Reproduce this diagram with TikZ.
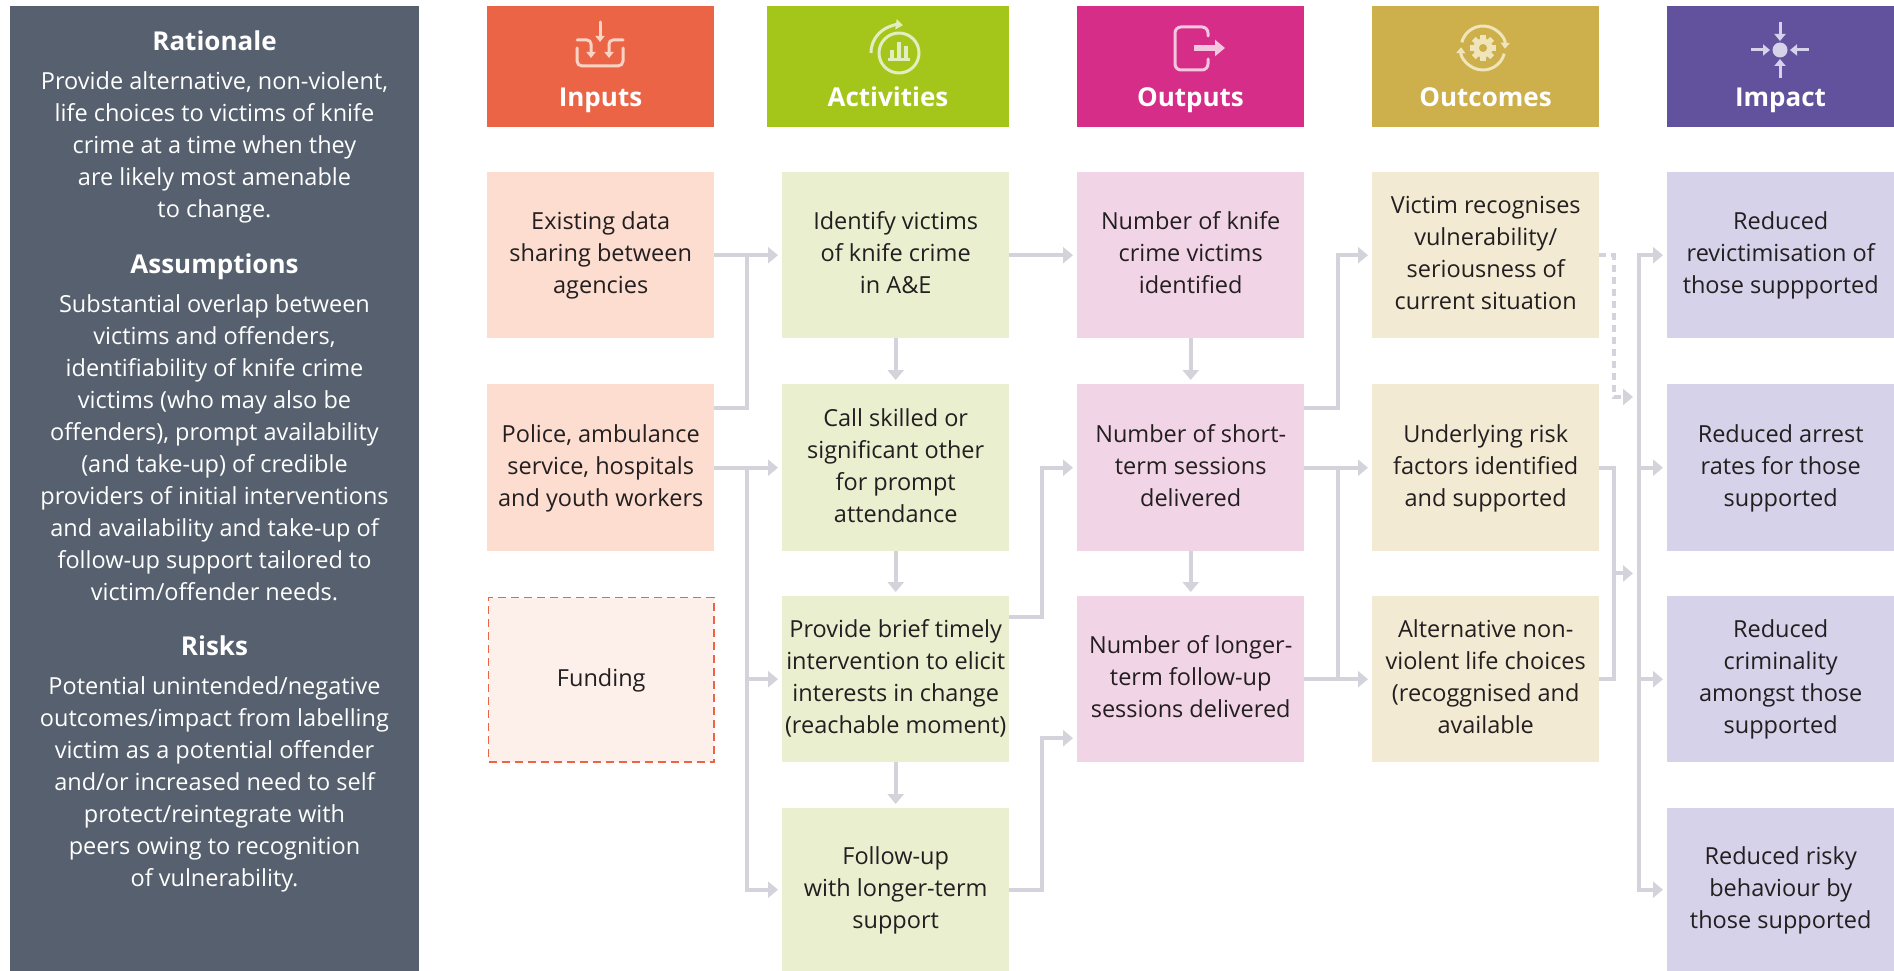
\documentclass[tikz,border=0pt]{standalone}
\usepackage{fontspec}
\setmainfont{Open Sans}
\usetikzlibrary{arrows.meta}
\definecolor{panelc}{HTML}{56606E}
\definecolor{txtc}{HTML}{231F20}
\definecolor{lgray}{HTML}{D4D3DC}
\definecolor{cin}{HTML}{EC6446}
\definecolor{cac}{HTML}{A4C61A}
\definecolor{cou}{HTML}{D62E88}
\definecolor{coc}{HTML}{CDAF4B}
\definecolor{cim}{HTML}{62519D}
\definecolor{bin}{HTML}{FCDDD0}
\definecolor{bfu}{HTML}{FDEFEA}
\definecolor{bac}{HTML}{E9EFCF}
\definecolor{bou}{HTML}{F2D4E7}
\definecolor{boc}{HTML}{F3EAD4}
\definecolor{bim}{HTML}{D6D2EA}
\definecolor{iin}{HTML}{FBD3C4}
\definecolor{iac}{HTML}{E4EDC0}
\definecolor{iou}{HTML}{F2C7DF}
\definecolor{ioc}{HTML}{F0E4BB}
\definecolor{iim}{HTML}{D6D2EA}
\newcommand\bodyfnt{\fontsize{23.5pt}{32pt}\selectfont}
\newcommand\headfnt{\fontsize{26pt}{32pt}\selectfont\bfseries}
\newcommand\stt{\strut}
\begin{document}
\begin{tikzpicture}[x=1pt,y=-1pt,
  box/.style={anchor=north west, minimum width=227pt, inner sep=0pt, align=center, text=txtc, font=\bodyfnt},
  hdr/.style={anchor=north west, minimum height=121pt, inner sep=0pt},
  htxt/.style={anchor=base, text=white, font=\headfnt, inner sep=0pt},
  ptxt/.style={anchor=center, text=white, font=\bodyfnt, align=center, inner sep=0pt},
  conn/.style={draw=lgray, line width=4pt},
  tipa/.tip={Triangle[length=10pt,width=16pt]},
  arr/.style={conn, -tipa, shorten >=4pt},
  icn/.style={line width=3pt, line cap=round, line join=round},
  itip/.tip={Triangle[length=6pt,width=9pt]},
  itipb/.tip={Triangle[length=7pt,width=11pt]},
]
\useasboundingbox (0,0) rectangle (1894,971);

% ---------- left panel ----------
\node[anchor=north west, fill=panelc, minimum width=409pt, minimum height=965pt, inner sep=0pt] (panel) at (10,6) {};
\node[htxt] (prh) at (214.5,50.5) {Rationale};
\node[ptxt] (prt) at (214.5,146.6) {\stt Provide alternative, non-violent,\\life choices to victims of knife\\crime at a time when they\\are likely most amenable\\to change.\stt};
\node[htxt] (pah) at (214.5,273) {Assumptions};
\node[ptxt] (pat) at (214.5,449.6) {\stt Substantial overlap between\\victims and offenders,\\identifiability of knife crime\\victims (who may also be\\offenders), prompt availability\\(and take-up) of credible\\providers of initial interventions\\and availability and take-up of\\follow-up support tailored to\\victim/offender needs.\stt};
\node[htxt] (pkh) at (214.5,655.5) {Risks};
\node[ptxt] (pkt) at (214.5,783.6) {\stt Potential unintended/negative\\outcomes/impact from labelling\\victim as a potential offender\\and/or increased need to self\\protect/reintegrate with\\peers owing to recognition\\of vulnerability.\stt};

% ---------- headers ----------
\node[hdr, fill=cin, minimum width=227pt] (hin) at (487,6) {};
\node[hdr, fill=cac, minimum width=242pt] (hac) at (767,6) {};
\node[hdr, fill=cou, minimum width=227pt] (hou) at (1077,6) {};
\node[hdr, fill=coc, minimum width=227pt] (hoc) at (1372,6) {};
\node[hdr, fill=cim, minimum width=227pt] (him) at (1667,6) {};
\node[htxt] (lin) at (600.5,107) {Inputs};
\node[htxt] (lac) at (888,107) {Activities};
\node[htxt] (lou) at (1190.5,107) {Outputs};
\node[htxt] (loc) at (1485.5,107) {Outcomes};
\node[htxt] (lim) at (1780.5,107) {Impact};

% ---------- icons ----------
% inputs
\draw[icn, draw=iin, -itip] (600,22) -- (600,42);
\draw[icn, draw=iin, rounded corners=5pt] (577,48) -- (577,66) -- (623,66) -- (623,48);
\draw[icn, draw=iin, rounded corners=4pt, -itip] (577,40) -- (591,40) -- (591,58);
\draw[icn, draw=iin, rounded corners=4pt, -itip] (623,40) -- (609,40) -- (609,58);
% activities
\coordinate (ac0) at (899,53);
\draw[icn, draw=iac] (ac0) circle[radius=20pt];
\fill[iac] (888,58) rectangle (910,61);
\fill[iac] (890,50) rectangle (894,58);
\fill[iac] (897,42) rectangle (901,58);
\fill[iac] (904,46) rectangle (908,58);
\draw[icn, draw=iac, line cap=butt, -{Triangle[length=7pt,width=10pt]}] ([shift={(180:28pt)}]ac0) arc[start angle=180, end angle=82, radius=28pt];
% outputs
\draw[icn, draw=iou, rounded corners=6pt] (1208,36) -- (1208,27) -- (1175,27) -- (1175,70) -- (1208,70) -- (1208,59);
\draw[draw=iou, line width=6pt, -{Triangle[length=10pt,width=16pt]}] (1194,48) -- (1225,48);
% outcomes
\coordinate (oc0) at (1483,48);
\fill[ioc] (oc0) circle[radius=9.5pt];
\foreach \a in {0,45,...,315} \fill[ioc, shift={(oc0)}, rotate=\a] (-2.7pt,0pt) rectangle (2.7pt,13pt);
\fill[coc] (oc0) circle[radius=4pt];
\draw[icn, draw=ioc, line cap=butt, -itip] ([shift={(165:22pt)}]oc0) arc[start angle=165, end angle=-2, radius=22pt];
\draw[icn, draw=ioc, line cap=butt, -itip] ([shift={(-15:22pt)}]oc0) arc[start angle=-15, end angle=-182, radius=22pt];
% impact
\fill[iim] (1780,50) circle[radius=7.5pt];
\draw[icn, draw=iim, line cap=butt, -itipb] (1780,22) -- (1780,41);
\draw[icn, draw=iim, line cap=butt, -itipb] (1780,78) -- (1780,59);
\draw[icn, draw=iim, line cap=butt, -itipb] (1751,50) -- (1770,50);
\draw[icn, draw=iim, line cap=butt, -itipb] (1809,50) -- (1790,50);

% ---------- boxes ----------
\node[box, fill=bin, minimum height=166pt] (in1) at (487,172) {\stt Existing data\\sharing between\\agencies\stt};
\node[box, fill=bin, minimum height=167pt] (in2) at (487,384) {\stt Police, ambulance\\service, hospitals\\and youth workers\stt};
\node[box, fill=bfu, minimum width=225.5pt, minimum height=164.5pt, draw=cin, line width=1.5pt, dash pattern=on 8pt off 5pt] (in3) at (487.75,596.75) {\stt Funding\stt};

\node[box, fill=bac, minimum height=166pt] (ac1) at (782,172) {\stt Identify victims\\of knife crime\\in A\&E\stt};
\node[box, fill=bac, minimum height=167pt] (ac2) at (782,384) {\stt Call skilled or\\significant other\\for prompt\\attendance\stt};
\node[box, fill=bac, minimum height=166pt] (ac3) at (782,596) {\stt Provide brief timely\\intervention to elicit\\interests in change\\(reachable moment)\stt};
\node[box, fill=bac, minimum height=163pt] (ac4) at (782,808) {\stt Follow-up\\with longer-term\\support\stt};

\node[box, fill=bou, minimum height=166pt] (ou1) at (1077,172) {\stt Number of knife\\crime victims\\identified\stt};
\node[box, fill=bou, minimum height=167pt] (ou2) at (1077,384) {\stt Number of short-\\term sessions\\delivered\stt};
\node[box, fill=bou, minimum height=166pt] (ou3) at (1077,596) {\stt Number of longer-\\term follow-up\\sessions delivered\stt};

\node[box, fill=boc, minimum height=166pt] (oc1) at (1372,172) {\stt Victim recognises\\vulnerability/\\seriousness of\\current situation\stt};
\node[box, fill=boc, minimum height=167pt] (oc2) at (1372,384) {\stt Underlying risk\\factors identified\\and supported\stt};
\node[box, fill=boc, minimum height=166pt] (oc3) at (1372,596) {\stt Alternative non-\\violent life choices\\(recoggnised and\\available\stt};

\node[box, fill=bim, minimum height=166pt] (im1) at (1667,172) {\stt Reduced\\revictimisation of\\those suppported\stt};
\node[box, fill=bim, minimum height=167pt] (im2) at (1667,384) {\stt Reduced arrest\\rates for those\\supported\stt};
\node[box, fill=bim, minimum height=166pt] (im3) at (1667,596) {\stt Reduced\\criminality\\amongst those\\supported\stt};
\node[box, fill=bim, minimum height=163pt] (im4) at (1667,808) {\stt Reduced risky\\behaviour by\\those supported\stt};

% ---------- connectors ----------
\coordinate (bx1) at (747,0);
\coordinate (bx2) at (1042,0);
\coordinate (bx3) at (1338,0);
\coordinate (bx4) at (1614,0);
\coordinate (bx5) at (1639,0);
\coordinate (dotend) at (1639,397);
\coordinate (ou3in) at ([yshift=-59pt]ou3.west);
\path (oc2.east) -- (oc3.east) coordinate[pos=0.5] (mg);

\draw[arr] (in1.east) -- (ac1.west);
\draw[conn] ([yshift=60pt]in2.east) -| (bx1 |- in1.east);
\draw[arr] (in2.east) -- (ac2.west);
\draw[arr] (bx1 |- in2.east) |- (ac4.west);
\draw[arr] (bx1 |- ac3.west) -- (ac3.west);

\draw[arr] (ac1.south) -- (ac2.north);
\draw[arr] (ac2.south) -- (ac3.north);
\draw[arr] (ac3.south) -- (ac4.north);
\draw[arr] (ac1.east) -- (ou1.west);
\draw[arr] ([yshift=62pt]ac3.east) -| (bx2 |- ou2.west) -- (ou2.west);
\draw[arr] (ac4.east) -| (bx2 |- ou3in) -- (ou3in);

\draw[arr] (ou1.south) -- (ou2.north);
\draw[arr] (ou2.south) -- (ou3.north);
\draw[arr] ([yshift=60pt]ou2.east) -| (bx3 |- oc1.west) -- (oc1.west);
\draw[arr] (ou2.east) -- (oc2.west);
\draw[arr] (ou3.east) -- (oc3.west);
\draw[conn] (bx3 |- ou2.east) -- (bx3 |- ou3.east);

\draw[conn, dash pattern=on 7pt off 5pt, -tipa, shorten >=6pt] (oc1.east) -| (bx4 |- dotend) -- (dotend);
\draw[conn] (oc2.east) -| (bx4 |- oc3.east) -- (oc3.east);
\draw[arr, shorten >=6pt] (bx4 |- mg) -- (bx5 |- mg);

\draw[conn, tipa-tipa, shorten >=4pt, shorten <=4pt] (im4.west) -- (bx5 |- im4.west) -- (bx5 |- im1.west) -- (im1.west);
\draw[arr] (bx5 |- im2.west) -- (im2.west);
\draw[arr] (bx5 |- im3.west) -- (im3.west);
\end{tikzpicture}
\end{document}
